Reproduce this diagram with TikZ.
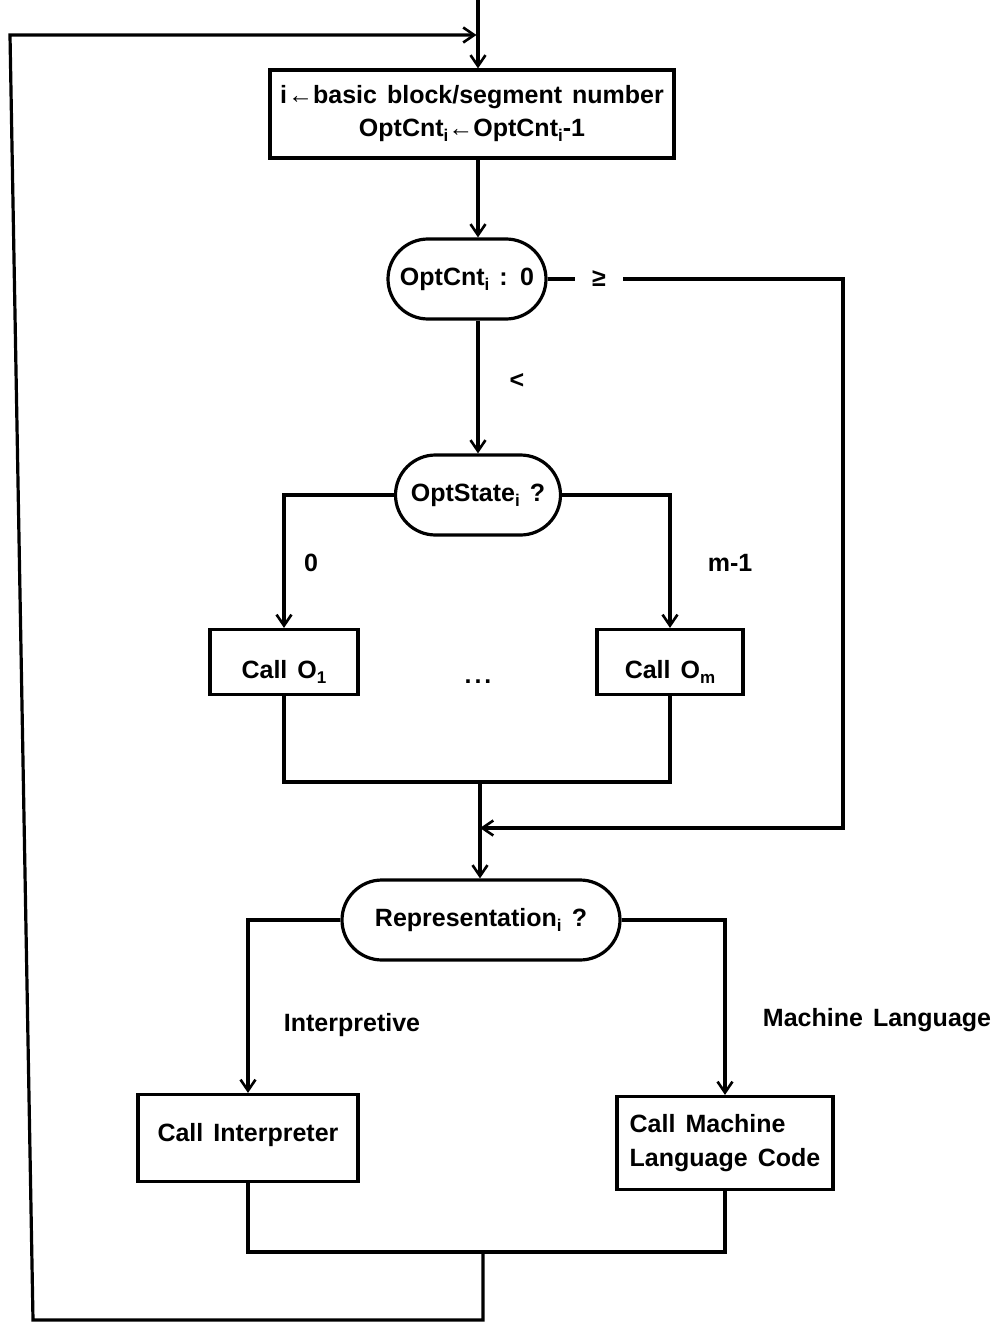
\documentclass[tikz,border=0pt]{standalone}
\usepackage{fontspec}
\usetikzlibrary{arrows.meta}
\newfontfamily\lett{Liberation Sans}[WordSpace=1.45]
\newcommand\lsub[1]{\raisebox{-5pt}{\fontsize{17pt}{17pt}\selectfont #1}}
\begin{document}
\begin{tikzpicture}[x=1pt,y=-1pt,
  font=\lett\bfseries\fontsize{25pt}{31pt}\selectfont,
  line width=3.2pt,
  arr/.style={-{Straight Barb[length=11pt,width=15pt,line width=2.6pt]}},
  box/.style={draw, rectangle, inner sep=0pt, align=center},
  term/.style={draw, rectangle, rounded corners=40pt, minimum height=80pt, inner sep=0pt},
  lbl/.style={inner sep=2pt}]
\useasboundingbox (0,0) rectangle (1002,1329);

% nodes
\node[box, minimum width=404pt, minimum height=88pt] (b1) at (472,114)
  {i\kern1pt←basic block/segment number\\[2pt]OptCnt\lsub{i}←OptCnt\lsub{i}-1};
\node[term, minimum width=158pt] (o1) at (467,279) {OptCnt\lsub{i} : 0};
\node[inner xsep=16pt, inner ysep=2pt] (ge) at (599,279) {≥};
\node[lbl] (lt) at (517,381) {<};
\node[term, minimum width=165pt] (o2) at (478,495) {OptState\lsub{i} ?};
\node[lbl] (l0) at (311,563) {0};
\node[lbl] (lm) at (730,563) {m-1};
\node[box, minimum width=148pt, minimum height=65pt, text height=36pt, text depth=3pt] (c1) at (284,662) {Call O\lsub{1}};
\node[box, minimum width=146pt, minimum height=65pt, text height=36pt, text depth=3pt] (c2) at (670,662) {Call O\lsub{m}};
\node[lbl] (dots) at (478,682) {.\kern3pt.\kern3pt.};
\node[term, minimum width=278pt] (o3) at (481,920) {Representation\lsub{i} ?};
\node[lbl] (li) at (352,1025) {Interpretive};
\node[lbl] (lml) at (877,1020) {Machine Language};
\node[box, minimum width=220pt, minimum height=87pt, text height=18pt, text depth=12pt] (ci) at (248,1138) {Call Interpreter};
\node[box, minimum width=216pt, minimum height=93pt, align=left] (cm) at (725,1143) {Call Machine\\[3pt]Language Code};

% coordinates
\coordinate (tin) at (478,0);
\coordinate (jm) at (480,782);
\coordinate (rc) at (843,828);
\coordinate (jr) at (480,828);
\coordinate (jb) at (483,1252);
\coordinate (lb) at (33,1320);
\coordinate (ltop) at (10,35);

% connectors
\draw[arr] (tin) -- (tin |- b1.north);
\draw[arr] (b1.south -| tin) -- (o1.north -| tin);
\draw[arr] (o1.south -| tin) -- (o2.north -| tin);
\draw (o1.east) -- (ge.west);
\draw[arr] (ge.east) -| (rc) -- (jr);
\draw[arr] (o2.west) -| (c1.north);
\draw[arr] (o2.east) -| (c2.north);
\draw (c1.south) |- (jm) -| (c2.south);
\draw[arr] (jm) -- (jm |- o3.north);
\draw[arr] (o3.west) -| (ci.north);
\draw[arr] (o3.east) -| (cm.north);
\draw (ci.south) |- (jb) -| (cm.south);
\draw[arr] (jb) -- (jb |- lb) -- (lb) -- (ltop) -- ([xshift=-1.5pt]ltop -| tin);
\end{tikzpicture}
\end{document}
